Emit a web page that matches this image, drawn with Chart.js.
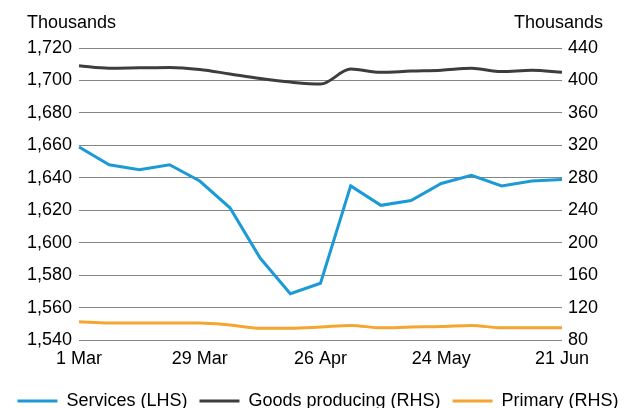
<!DOCTYPE html>
<html lang="en">
<head>
    <meta charset="UTF-8">
    <title>Employment by industry</title>
    <script src="https://cdn.jsdelivr.net/npm/chart.js@4"></script>
    <style>
        * { margin: 0; padding: 0; box-sizing: border-box; }
        html, body { width: 636px; height: 408px; overflow: hidden; background: #fff; }
        .chart-box { position: relative; width: 636px; height: 420px; }
    </style>
</head>
<body>
    <div class="chart-box">
        <canvas id="employmentChart"></canvas>
    </div>

    <script>
        // weekly dates, only every 4th is labelled
        const dates = ['1 Mar', '8 Mar', '15 Mar', '22 Mar', '29 Mar', '5 Apr', '12 Apr', '19 Apr', '26 Apr',
                       '3 May', '10 May', '17 May', '24 May', '31 May', '7 Jun', '14 Jun', '21 Jun'];

        // Services, left axis (thousands)
        const services = [1659, 1648, 1645, 1648, 1638, 1621.5, 1590.5, 1568.5, 1575, 1635,
                          1623, 1626, 1636.5, 1641.5, 1635, 1638, 1639];

        // Goods producing, right axis (thousands)
        const goods = [418, 415, 415.5, 416, 413.5, 408, 402.5, 398, 395.5, 414,
                       410, 411.5, 412.5, 415, 411, 412.5, 410];

        // Primary, right axis (thousands)
        const primary = [102.5, 101, 101, 101, 101, 98.5, 94.5, 94.5, 96, 98,
                         95, 96, 96.5, 98, 95, 95, 95];

        const leftTicks = { min: 1540, max: 1720, step: 20 };
        const rightTicks = { min: 80, max: 440, step: 40 };

        const font = { family: "'Liberation Sans', Arial, sans-serif", size: 18 };

        // "Thousands" above each axis
        const unitLabels = {
            id: 'unitLabels',
            afterDraw(chart) {
                const ctx = chart.ctx;
                ctx.save();
                ctx.font = `${font.size}px ${font.family}`;
                ctx.fillStyle = '#000';
                ctx.textBaseline = 'middle';
                ctx.textAlign = 'left';
                ctx.fillText('Thousands', 27, 23);
                ctx.textAlign = 'right';
                ctx.fillText('Thousands', 603, 23);
                ctx.restore();
            }
        };

        new Chart(document.getElementById('employmentChart'), {
            type: 'line',
            data: {
                labels: dates,
                datasets: [
                    {
                        label: 'Services (LHS)',
                        data: services,
                        yAxisID: 'yLeft',
                        borderColor: '#1b9ad6',
                        backgroundColor: '#1b9ad6',
                        borderWidth: 3,
                        pointRadius: 0,
                        tension: 0
                    },
                    {
                        label: 'Goods producing (RHS)',
                        data: goods,
                        yAxisID: 'yRight',
                        borderColor: '#3d3d3d',
                        backgroundColor: '#3d3d3d',
                        borderWidth: 3,
                        pointRadius: 0,
                        cubicInterpolationMode: 'monotone'
                    },
                    {
                        label: 'Primary (RHS)',
                        data: primary,
                        yAxisID: 'yRight',
                        borderColor: '#f5a631',
                        backgroundColor: '#f5a631',
                        borderWidth: 3,
                        pointRadius: 0,
                        cubicInterpolationMode: 'monotone'
                    }
                ]
            },
            options: {
                responsive: true,
                maintainAspectRatio: false,
                animation: false,
                layout: { padding: { top: 48, left: 0, right: 0, bottom: 0 } },
                plugins: {
                    tooltip: { enabled: false },
                    legend: {
                        position: 'bottom',
                        labels: {
                            font: font,
                            color: '#000',
                            boxWidth: 40,
                            boxHeight: 3,
                            padding: 12,
                            generateLabels(chart) {
                                const items = Chart.defaults.plugins.legend.labels.generateLabels(chart);
                                items.forEach(it => { it.lineWidth = 0; it.fillStyle = it.strokeStyle; });
                                return items;
                            }
                        }
                    }
                },
                scales: {
                    x: {
                        offset: false,
                        grid: { display: false, drawTicks: false },
                        border: { display: false },
                        ticks: {
                            font: font,
                            color: '#000',
                            padding: 8,
                            autoSkip: false,
                            maxRotation: 0,
                            callback: (v, i) => (i % 4 === 0 ? dates[i] : '')
                        },
                        afterFit(scale) { scale.height = 40; }
                    },
                    yLeft: {
                        position: 'left',
                        min: leftTicks.min,
                        max: leftTicks.max,
                        grid: { color: '#858585', lineWidth: 1, drawTicks: false },
                        border: { display: false },
                        ticks: {
                            font: font,
                            color: '#000',
                            padding: 7,
                            stepSize: leftTicks.step,
                            callback: v => v.toLocaleString('en-US')
                        },
                        afterFit(scale) { scale.width = 79; }
                    },
                    yRight: {
                        position: 'right',
                        min: rightTicks.min,
                        max: rightTicks.max,
                        grid: { display: false, drawTicks: false },
                        border: { display: false },
                        ticks: {
                            font: font,
                            color: '#000',
                            padding: 6,
                            stepSize: rightTicks.step
                        },
                        afterFit(scale) { scale.width = 74; }
                    }
                }
            },
            plugins: [unitLabels]
        });
    </script>
</body>
</html>
